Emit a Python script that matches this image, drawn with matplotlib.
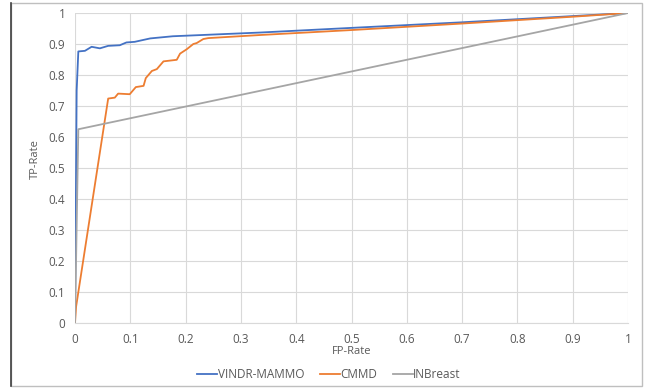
import matplotlib
matplotlib.use("Agg")
import matplotlib.pyplot as plt
from matplotlib.patches import Rectangle
from matplotlib.lines import Line2D

vindr_fpr = [0.0, 0.003, 0.006, 0.018, 0.030, 0.045, 0.060, 0.081, 0.093, 0.108, 0.136, 0.177, 0.335, 0.5, 0.7, 0.9, 1.0]
vindr_tpr = [0.0, 0.75, 0.876, 0.878, 0.891, 0.886, 0.894, 0.896, 0.905, 0.907, 0.918, 0.925, 0.937, 0.952, 0.970, 0.990, 1.0]

cmmd_fpr = [0.0, 0.002, 0.060, 0.072, 0.078, 0.099, 0.110, 0.124, 0.128, 0.139, 0.148, 0.160, 0.184, 0.190, 0.202, 0.214, 0.220, 0.232, 0.241, 0.335, 0.5, 0.7, 0.9, 1.0]
cmmd_tpr = [0.0, 0.053, 0.724, 0.727, 0.740, 0.738, 0.761, 0.765, 0.790, 0.813, 0.819, 0.844, 0.849, 0.869, 0.883, 0.900, 0.903, 0.916, 0.919, 0.929, 0.945, 0.966, 0.988, 1.0]

inb_fpr = [0.0, 0.006, 1.0]
inb_tpr = [0.0, 0.625, 1.0]

series = [("VINDR-MAMMO", vindr_fpr, vindr_tpr, "#4472C4"),
          ("CMMD", cmmd_fpr, cmmd_tpr, "#ED7D31"),
          ("INBreast", inb_fpr, inb_tpr, "#A5A5A5")]

xticks = [0, 0.1, 0.2, 0.3, 0.4, 0.5, 0.6, 0.7, 0.8, 0.9, 1]
xticklabels = ["0", "0.1", "0.2", "0.3", "0.4", "0.5", "0.6", "0.7", "0.8", "0.9", "1"]

plt.rcParams['font.family'] = ['Open Sans', 'DejaVu Sans']
W, H = 651, 388
fig = plt.figure(figsize=(W/100, H/100), dpi=100)
ax = fig.add_axes([75/W, 1-323/H, (628-75)/W, (323-13)/H])

for name, x, y, c in series:
    ax.plot(x, y, color=c, lw=1.3, label=name, solid_joinstyle='round')

ax.set_xlim(0, 1)
ax.set_ylim(0, 1)
ax.set_xticks(xticks)
ax.set_xticklabels(xticklabels)
ax.set_yticks(xticks)
ax.set_yticklabels(xticklabels)
ax.grid(True, color="#d9d9d9", lw=0.8)
ax.set_axisbelow(True)
for s in ax.spines.values():
    s.set_visible(False)
ax.spines['bottom'].set_visible(True)
ax.spines['bottom'].set_color("#d9d9d9")
ax.tick_params(length=0, labelsize=8.5, colors="#595959", pad=7)
ax.set_xlabel("FP-Rate", fontsize=8, color="#595959")
ax.set_ylabel("TP-Rate", fontsize=8, color="#595959")
ax.xaxis.set_label_coords(0.5, (323-346)/310)
ax.yaxis.set_label_coords((41-75)/553, 0.53)

handles = [Line2D([0], [0], color=c, lw=1.3) for _, _, _, c in series]
fig.legend(handles, [s[0] for s in series], loc='center', bbox_to_anchor=(329/W, 1-375/H),
           ncol=3, frameon=False, fontsize=8.5, handlelength=1.7, handletextpad=0.05,
           columnspacing=1.3, labelcolor="#595959")

fig.add_artist(Rectangle((11/W, 1-386/H), (642-11)/W, (386-3)/H, transform=fig.transFigure,
                         fill=False, edgecolor="#bfbfbf", lw=1.0))
fig.add_artist(Line2D([11/W, 11/W], [1-386/H, 1-3/H], transform=fig.transFigure, color="#404040", lw=1.2))

fig.savefig("out.png", dpi=100)
